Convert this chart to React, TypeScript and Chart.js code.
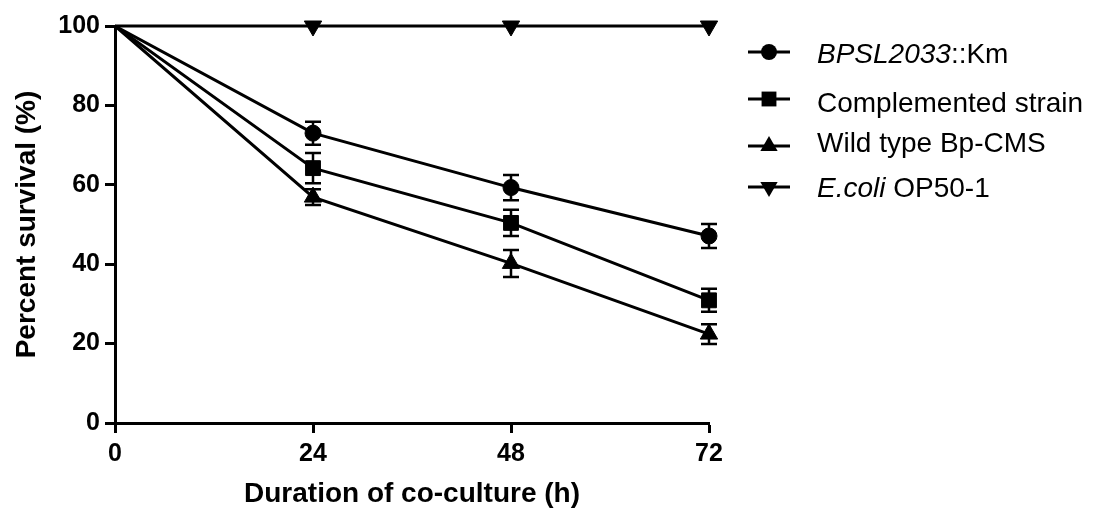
import React, { useEffect, useRef } from "react";
import { Chart, registerables } from "chart.js";

Chart.register(...registerables);

const hours = [0, 24, 48, 72];
const xTickValues = [0, 24, 48, 72];
const yTickValues = [0, 20, 40, 60, 80, 100];

const bpslValues = [100, 73.0, 59.3, 47.1];
const bpslErrors = [0, 2.9, 3.2, 3.0];
const compValues = [100, 64.2, 50.4, 30.9];
const compErrors = [0, 3.8, 3.3, 2.9];
const wildValues = [100, 56.9, 40.2, 22.4];
const wildErrors = [0, 2.0, 3.4, 2.5];
const ecoliValues = [100, 100, 100, 100];
const ecoliErrors = [0, 0, 0, 0];

const xTitle = "Duration of co-culture (h)";
const yTitle = "Percent survival (%)";

type Part = { text: string; italic: boolean };
const legendLabels: Part[][] = [
  [{ text: "BPSL2033", italic: true }, { text: "::Km", italic: false }],
  [{ text: "Complemented strain", italic: false }],
  [{ text: "Wild type Bp-CMS", italic: false }],
  [{ text: "E.coli", italic: true }, { text: " OP50-1", italic: false }],
];
const markerStyles = ["circle", "rect", "triangle", "triangleDown"];

const FONT = "'Liberation Sans', Arial, Helvetica, sans-serif";

function drawMarker(ctx: CanvasRenderingContext2D, style: string, x: number, y: number) {
  ctx.beginPath();
  if (style === "circle") {
    ctx.arc(x, y, 8, 0, Math.PI * 2);
  } else if (style === "rect") {
    const s = 10.5 * Math.SQRT1_2;
    ctx.rect(x - s, y - s, 2 * s, 2 * s);
  } else {
    const r = 10;
    let rad = style === "triangle" ? 0 : Math.PI;
    ctx.moveTo(x + Math.sin(rad) * r, y - Math.cos(rad) * r);
    rad += (2 * Math.PI) / 3;
    ctx.lineTo(x + Math.sin(rad) * r, y - Math.cos(rad) * r);
    rad += (2 * Math.PI) / 3;
    ctx.lineTo(x + Math.sin(rad) * r, y - Math.cos(rad) * r);
    ctx.closePath();
  }
  ctx.fillStyle = "#000";
  ctx.fill();
}

const errorSets = [bpslErrors, compErrors, wildErrors, ecoliErrors];

const errorBarPlugin = {
  id: "errorBars",
  afterDatasetsDraw(chart: any) {
    const ctx = chart.ctx as CanvasRenderingContext2D;
    const xs = chart.scales.x;
    const ys = chart.scales.y;
    ctx.save();
    ctx.strokeStyle = "#000";
    ctx.lineWidth = 2.5;
    chart.data.datasets.forEach((ds: any, i: number) => {
      const errs = errorSets[i];
      ds.data.forEach((p: any, j: number) => {
        const e = errs[j];
        if (!e) return;
        const px = xs.getPixelForValue(p.x);
        const top = ys.getPixelForValue(p.y + e);
        const bot = ys.getPixelForValue(p.y - e);
        ctx.beginPath();
        ctx.moveTo(px, top);
        ctx.lineTo(px, bot);
        ctx.moveTo(px - 8, top);
        ctx.lineTo(px + 8, top);
        ctx.moveTo(px - 8, bot);
        ctx.lineTo(px + 8, bot);
        ctx.stroke();
      });
    });
    ctx.restore();
  },
};

const legendPlugin = {
  id: "customLegend",
  afterDraw(chart: any) {
    const ctx = chart.ctx as CanvasRenderingContext2D;
    const lineYs = [52, 99, 146, 187];
    const baseYs = [63, 112, 152, 197];
    ctx.save();
    legendLabels.forEach((parts, i) => {
      const ly = lineYs[i];
      ctx.strokeStyle = "#000";
      ctx.lineWidth = 3;
      ctx.beginPath();
      ctx.moveTo(748, ly);
      ctx.lineTo(790, ly);
      ctx.stroke();
      drawMarker(ctx, markerStyles[i], 769, ly);
      let x = 817;
      ctx.fillStyle = "#000";
      ctx.textBaseline = "alphabetic";
      ctx.textAlign = "left";
      parts.forEach((part) => {
        ctx.font = `${part.italic ? "italic " : ""}28px ${FONT}`;
        ctx.fillText(part.text, x, baseYs[i]);
        x += ctx.measureText(part.text).width;
      });
    });
    ctx.restore();
  },
};

const toPoints = (vals: number[]) => vals.map((v, i) => ({ x: hours[i], y: v }));

export default function App() {
  const ref = useRef<HTMLCanvasElement | null>(null);

  useEffect(() => {
    if (!ref.current) return;
    const mk = (label: string, vals: number[], style: string, radius: number, rotation = 0) => ({
      label,
      data: toPoints(vals),
      borderColor: "#000",
      backgroundColor: "#000",
      borderWidth: 3,
      pointStyle: style,
      pointRotation: rotation,
      pointRadius: vals.map((_, i) => (i === 0 ? 0 : radius)),
      pointHoverRadius: vals.map((_, i) => (i === 0 ? 0 : radius)),
      pointBackgroundColor: "#000",
      pointBorderColor: "#000",
      pointBorderWidth: 1,
      tension: 0,
      clip: { left: 0, top: 14, right: 14, bottom: 0 },
    });
    const chart = new Chart(ref.current, {
      type: "line",
      data: {
        datasets: [
          mk("BPSL2033::Km", bpslValues, "circle", 8),
          mk("Complemented strain", compValues, "rect", 10.5),
          mk("Wild type Bp-CMS", wildValues, "triangle", 10),
          mk("E.coli OP50-1", ecoliValues, "triangle", 10, 180),
        ] as any,
      },
      options: {
        animation: false,
        responsive: true,
        maintainAspectRatio: false,
        layout: { padding: { left: 0, top: 26, right: 388, bottom: 0 } },
        plugins: { legend: { display: false }, tooltip: { enabled: false } },
        scales: {
          x: {
            type: "linear",
            min: 0,
            max: 72,
            afterBuildTicks: (s: any) => {
              s.ticks = xTickValues.map((v) => ({ value: v }));
            },
            afterFit: (s: any) => {
              s.height = 89;
            },
            grid: {
              drawOnChartArea: false,
              drawTicks: true,
              tickLength: 10,
              tickColor: "#000",
              tickWidth: 3,
              color: "#000",
            },
            border: { color: "#000", width: 3 },
            ticks: {
              color: "#000",
              padding: 6,
              maxRotation: 0,
              font: { family: FONT, size: 25, weight: "bold" },
            },
            title: {
              display: true,
              text: xTitle,
              color: "#000",
              font: { family: FONT, size: 28, weight: "bold" },
              padding: { top: 0, bottom: 1 },
            },
          },
          y: {
            type: "linear",
            min: 0,
            max: 100,
            afterBuildTicks: (s: any) => {
              s.ticks = yTickValues.map((v) => ({ value: v }));
            },
            afterFit: (s: any) => {
              s.width = 115;
            },
            grid: {
              drawOnChartArea: false,
              drawTicks: true,
              tickLength: 10,
              tickColor: "#000",
              tickWidth: 3,
              color: "#000",
            },
            border: { color: "#000", width: 3 },
            ticks: {
              color: "#000",
              padding: 5,
              font: { family: FONT, size: 25, weight: "bold" },
            },
            title: {
              display: true,
              text: yTitle,
              color: "#000",
              font: { family: FONT, size: 28, weight: "bold" },
              padding: { top: 10, bottom: 0 },
            },
          },
        },
      } as any,
      plugins: [errorBarPlugin, legendPlugin],
    });
    return () => chart.destroy();
  }, []);

  return (
    <div style={{ position: "fixed", left: 0, top: 0, width: 1097, height: 512, background: "#fff" }}>
      <canvas ref={ref} />
    </div>
  );
}
